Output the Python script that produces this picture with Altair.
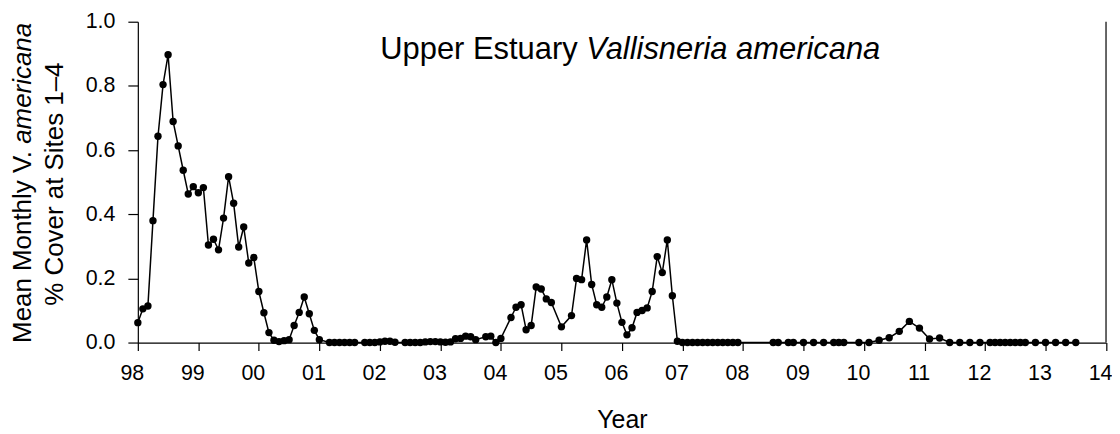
import altair as alt
import pandas as pd

# ---------------- data ----------------
# month index counted from January 1998 (0 = Jan 1998)
month_index = [
    0, 1, 2, 3, 4, 5, 6, 7, 8, 9, 10, 11,
    12, 13, 14, 15, 16, 17, 18, 19, 20, 21, 22, 23,
    24, 25, 26, 27, 28, 29, 30, 31, 32, 33, 34, 35,
    36, 38, 39, 40, 41, 42, 43, 45, 46, 47,
    48, 49, 50, 51, 53, 54, 55, 56, 57, 58, 59,
    60, 61, 62, 63, 64, 65, 66, 67, 69, 70, 71,
    72, 74, 75, 76, 77, 78, 79, 80, 81, 82,
    84, 86, 87, 88, 89, 90, 91, 92, 93, 94, 95,
    96, 97, 98, 99, 100, 101, 102, 103, 104, 105, 106, 107,
    108, 109, 110, 111, 112, 113, 114, 115, 116, 117, 118, 119,
    126, 127, 129, 130,
    132, 134, 136, 138, 139, 140, 143,
    145, 147, 149, 151, 153, 155,
    157, 159, 161, 163, 165, 167,
    169, 170, 171, 172, 173, 174, 175, 176, 178,
    180, 182, 184, 186,
]
cover = [
    0.062, 0.105, 0.114, 0.380, 0.643, 0.804, 0.897, 0.689, 0.613, 0.537, 0.463, 0.486,
    0.467, 0.483, 0.304, 0.322, 0.289, 0.388, 0.517, 0.434, 0.298, 0.360, 0.248, 0.265,
    0.159, 0.093, 0.031, 0.007, 0.003, 0.006, 0.009, 0.053, 0.094, 0.142, 0.090, 0.038,
    0.009, 0.000, 0.000, 0.000, 0.000, 0.000, 0.000, 0.000, 0.000, 0.000,
    0.002, 0.004, 0.004, 0.001, 0.000, 0.000, 0.000, 0.000, 0.002, 0.003, 0.003,
    0.002, 0.001, 0.002, 0.012, 0.013, 0.020, 0.018, 0.009, 0.018, 0.020, 0.000,
    0.013, 0.078, 0.110, 0.118, 0.040, 0.053, 0.173, 0.167, 0.136, 0.125,
    0.049, 0.084, 0.200, 0.196, 0.320, 0.181, 0.118, 0.110, 0.142, 0.196, 0.123,
    0.063, 0.024, 0.046, 0.094, 0.100, 0.108, 0.159, 0.268, 0.218, 0.320, 0.146, 0.004,
    0.000, 0.000, 0.000, 0.000, 0.000, 0.000, 0.000, 0.000, 0.000, 0.000, 0.000, 0.000,
    0.000, 0.000, 0.000, 0.000,
    0.000, 0.000, 0.000, 0.000, 0.000, 0.000, 0.000,
    0.000, 0.007, 0.015, 0.035, 0.066, 0.045,
    0.011, 0.014, 0.000, 0.000, 0.000, 0.000,
    0.000, 0.000, 0.000, 0.000, 0.000, 0.000, 0.000, 0.000, 0.000,
    0.000, 0.000, 0.000, 0.000,
]
year_ticks = [1998, 1999, 2000, 2001, 2002, 2003, 2004, 2005, 2006,
              2007, 2008, 2009, 2010, 2011, 2012, 2013, 2014]
cover_ticks = [0.0, 0.2, 0.4, 0.6, 0.8, 1.0]

title_plain = "Upper Estuary"
title_italic = "Vallisneria americana"
ytitle_plain = "Mean Monthly V."
ytitle_italic = "americana"
ytitle_line2 = "% Cover at Sites 1\u20134"
xtitle = "Year"

# ---------------- layout / style ----------------
FONT = "Liberation Sans"
W, H = 971.7, 322
EM_SPACE = 0.278  # Arial space advance (em)

df = pd.DataFrame({"year": [1998 + m / 12 for m in month_index], "cover": cover})

x_enc = alt.X(
    "year:Q",
    scale=alt.Scale(domain=[1998, 2014], nice=False, zero=False),
    axis=alt.Axis(
        values=year_ticks,
        labelExpr="substring(toString(datum.value), 2, 4)",
        title=xtitle, titleFont=FONT, titleFontSize=25, titleFontWeight="normal",
        titleColor="black", titleBaseline="alphabetic", titleY=85,
        labelFont=FONT, labelFontSize=21.5, labelColor="black",
        labelPadding=12, labelOffset=-6, labelFlush=False, labelOverlap=False,
        tickSize=8, tickColor="black", tickWidth=1.2,
        domainColor="black", domainWidth=1.2, grid=False,
    ),
)
y_enc = alt.Y(
    "cover:Q",
    scale=alt.Scale(domain=[0, 1], nice=False, zero=True),
    axis=alt.Axis(
        values=cover_ticks, format=".1f", title=None,
        labelFont=FONT, labelFontSize=21.5, labelColor="black", labelPadding=13,
        labelFlush=False, labelOverlap=False,
        tickSize=10, tickColor="black", tickWidth=1.2,
        domainColor="black", domainWidth=1.2, grid=False,
    ),
)

base = alt.Chart(df).encode(x=x_enc, y=y_enc)
line = base.mark_line(color="black", strokeWidth=1.5)
pts = base.mark_circle(color="black", opacity=1, size=55)

frame = alt.Chart(pd.DataFrame({"k": [0]})).mark_rule(color="black", strokeWidth=1.2).encode(
    x=alt.value(W), y=alt.value(0), y2=alt.value(H)
)


def txt(s, x, y, size, align, baseline="alphabetic", angle=0, italic=False):
    kw = dict(font=FONT, fontSize=size, color="black", align=align, baseline=baseline)
    if angle:
        kw["angle"] = angle
    if italic:
        kw["fontStyle"] = "italic"
    return alt.Chart(pd.DataFrame({"label": [s]})).mark_text(**kw).encode(
        text="label:N", x=alt.value(x), y=alt.value(y)
    )


# in-plot title
TFS = 31
t_anchor = 441.4
t_base = 37
title1 = txt(title_plain, t_anchor, t_base, TFS, "right")
title2 = txt(title_italic, t_anchor + EM_SPACE * TFS, t_base, TFS, "left", italic=True)

# y-axis title (two lines, rotated)
YFS = 26
yc = 163
w_plain = 7.503 * YFS
w_total = (7.503 + EM_SPACE + 4.668) * YFS
y_bottom = yc + w_total / 2
p_anchor = y_bottom - w_plain
yt1 = txt(ytitle_plain, -115.3, p_anchor, YFS, "right", baseline="middle", angle=270)
yt2 = txt(ytitle_italic, -115.3, p_anchor - EM_SPACE * YFS, YFS, "left", baseline="middle",
          angle=270, italic=True)
yt3 = txt(ytitle_line2, -83.3, yc, YFS, "center", baseline="middle", angle=270)

chart = alt.layer(line, pts, frame, title1, title2, yt1, yt2, yt3).properties(
    width=W, height=H,
    padding={"left": 130.3, "top": 13, "right": 6, "bottom": 89},
    autosize=alt.AutoSizeParams(type="none"),
).configure_view(stroke=None)

chart.save("out.html", embed_options={"renderer": "svg", "actions": False})
